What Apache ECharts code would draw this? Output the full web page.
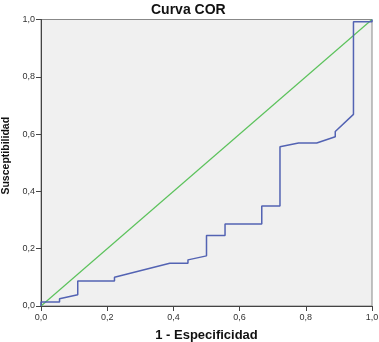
<!DOCTYPE html>
<html><head><meta charset="utf-8">
<script src="https://cdn.jsdelivr.net/npm/echarts@6/dist/echarts.min.js"></script>
<style>html,body{margin:0;padding:0;background:#fff}#c{width:379px;height:342px}</style>
</head><body><div id="c"></div>
<script>
var rocX = [0, 0, 0.056, 0.056, 0.111, 0.111, 0.222, 0.222, 0.389, 0.444, 0.444, 0.5, 0.5, 0.556, 0.556, 0.667, 0.667, 0.722, 0.722, 0.778, 0.833, 0.889, 0.889, 0.944, 0.944, 1, 1];
var rocY = [0, 0.014, 0.014, 0.025, 0.039, 0.087, 0.087, 0.1, 0.149, 0.149, 0.161, 0.175, 0.246, 0.246, 0.286, 0.286, 0.349, 0.349, 0.556, 0.569, 0.569, 0.591, 0.609, 0.669, 0.992, 0.992, 1];
var refX = [0, 1];
var refY = [0, 1];
var tickVals = [0, 0.2, 0.4, 0.6, 0.8, 1.0];

function zip(a, b) { return a.map(function (v, i) { return [v, b[i]]; }); }
function fmt(v) { return v.toFixed(1).replace('.', ','); }

var chart = echarts.init(document.getElementById('c'));
var axisCommon = {
  type: 'value', min: 0, max: 1, interval: 0.2,
  axisLine: { show: true, lineStyle: { color: '#444', width: 1 } },
  axisTick: { show: true, inside: false, length: 5, lineStyle: { color: '#444' } },
  splitLine: { show: false },
  axisLabel: { formatter: fmt, fontFamily: 'Liberation Sans', fontSize: 9, color: '#333' },
  nameLocation: 'middle',
  nameTextStyle: { fontFamily: 'Liberation Sans', fontWeight: 'bold', fontSize: 13, color: '#111' }
};
chart.setOption({
  animation: false,
  title: { text: 'Curva COR', left: 146, top: -2,
    textStyle: { fontFamily: 'Liberation Sans', fontWeight: 'bold', fontSize: 14, color: '#111' } },
  grid: { left: 41, right: 7, top: 19.5, bottom: 36, containLabel: false, outerBoundsMode: 'none',
    show: true, backgroundColor: '#f0f0f0', borderColor: '#888', borderWidth: 1 },
  xAxis: Object.assign({}, axisCommon, { name: '1 - Especificidad', nameGap: 23,
    axisLabel: Object.assign({}, axisCommon.axisLabel, { margin: 7 }) }),
  yAxis: Object.assign({}, axisCommon, { name: 'Susceptibilidad', nameGap: 28,
    nameTextStyle: { fontFamily: 'Liberation Sans', fontWeight: 'bold', fontSize: 10.5, color: '#111', padding: [0, 0, 0, 14] },
    axisLabel: Object.assign({}, axisCommon.axisLabel, { margin: 6 }) }),
  series: [
    { type: 'line', data: zip(refX, refY), symbol: 'none', lineStyle: { color: '#5cc25c', width: 1.2 } },
    { type: 'line', data: zip(rocX, rocY), symbol: 'none', lineStyle: { color: '#5363b3', width: 1.5 } }
  ]
});
</script></body></html>
